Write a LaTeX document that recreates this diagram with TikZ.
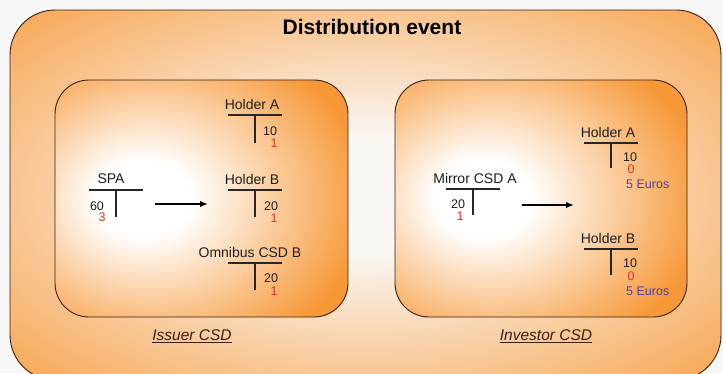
\documentclass[tikz,border=0pt]{standalone}
\usepackage{fontspec}
\setmainfont{Liberation Sans}
\usepackage{xcolor}
\usetikzlibrary{positioning,arrows.meta}

\definecolor{boxorange}{RGB}{247,152,55}
\definecolor{paleorange}{RGB}{250,246,242}
\definecolor{edgebrown}{RGB}{60,30,12}
\definecolor{labgray}{RGB}{30,30,30}
\definecolor{numred}{RGB}{222,48,36}
\definecolor{euroblue}{RGB}{78,62,150}

% Schattierungen (100bp-Rahmen)
\pgfdeclareradialshading{outerglow}{\pgfpoint{0bp}{0bp}}{color(0bp)=(paleorange); color(8bp)=(paleorange); color(40bp)=(boxorange); color(80bp)=(boxorange)}
\pgfdeclareradialshading{innerglow}{\pgfpoint{-11bp}{0bp}}{color(0bp)=(white); color(8bp)=(white); color(35bp)=(boxorange); color(90bp)=(boxorange)}

\begin{document}
\begin{tikzpicture}[x=1pt,y=-1pt, line cap=round, line join=round]
				\useasboundingbox (0,0) rectangle (723,373);
				\fill[white!97!black] (0,0) rectangle (723,373);
				
				% ===== Stile =====
				\tikzset{
					csdbox/.style={draw=edgebrown, line width=0.9pt, shading=innerglow, rounded corners=34pt},
					tline/.style={draw=black!85, line width=1.1pt, line cap=butt},
					lab/.style={inner sep=0pt, text=labgray, font=\fontsize{14}{16}\selectfont},
					num/.style={inner sep=0pt, text=labgray, font=\fontsize{12.5}{14}\selectfont},
					rnum/.style={num, text=numred},
					euro/.style={num, text=euroblue, anchor=west},
					csdname/.style={inner sep=0pt, text=edgebrown, font=\fontsize{15.5}{18}\selectfont\itshape},
					flow/.style={-{Latex[length=8pt,width=6.5pt]}, line width=1.8pt, line cap=butt}
				}
				
				% ===== äußerer Rahmen =====
				\shadedraw[draw=edgebrown, line width=0.9pt, shading=outerglow, rounded corners=45pt] (10,10) rectangle (721,380);
				\node[inner sep=0pt, text=black, font=\fontsize{21}{24}\selectfont\bfseries] (title) at (372,27) {Distribution event};
				
				% ===== die beiden CSD =====
				\shadedraw[csdbox] (55,80) rectangle (348,317);
				\shadedraw[csdbox] (395,80) rectangle (687,317);
				\node[csdname] (issuer) at (192,336) {\underline{Issuer CSD}};
				\node[csdname] (investor) at (546,336) {\underline{Investor CSD}};
				
				% ===== T-Konten: Name/vertikal x/Linie y/Label x/Länge/Text =====
				\foreach \n/\vx/\vy/\lx/\h/\lab in {spa/116/190/111/27/SPA, isA/255/115/252/28/Holder A, isB/255/190/252/27/Holder B, omni/255/263/250/27/Omnibus CSD B, mir/473/189/475/26/Mirror CSD A, invA/611/143/608/25/Holder A, invB/611/249/608/26/Holder B}{
					\draw[tline] (\vx-27,\vy) -- (\vx+27,\vy);
					\draw[tline] (\vx,\vy) -- (\vx,\vy+\h);
					\node[lab] (\n) at (\lx,\vy-11) {\lab};
				}
				
				% ===== Bestände (schwarz) und Ansprüche (rot) =====
				\foreach \n/\x/\y/\t in {spaQ/97/206/60, isAQ/270/131/10, isBQ/271/206/20, omniQ/271/278/20, mirQ/458/204/20, invAQ/630/157/10, invBQ/630/263/10}{
					\node[num] (\n) at (\x,\y) {\t};
				}
				\foreach \n/\x/\y/\t in {spaR/102/217/3, isAR/274/143/1, isBR/274/218/1, omniR/274/291/1, mirR/460/216/1, invAR/631/169/0, invBR/631/276/0}{
					\node[rnum] (\n) at (\x,\y) {\t};
				}
				\node[euro] (invAE) at (626,184) {5 Euros};
				\node[euro] (invBE) at (626,291) {5 Euros};
				
				% ===== Pfeile =====
				\coordinate (issFrom) at (155,204);
				\coordinate (issTo) at (208,204);
				\coordinate (invFrom) at (522,205);
				\coordinate (invTo) at (574,205);
				\draw[flow] (issFrom) -- (issTo);
				\draw[flow] (invFrom) -- (invTo);
			\end{tikzpicture}
\end{document}
